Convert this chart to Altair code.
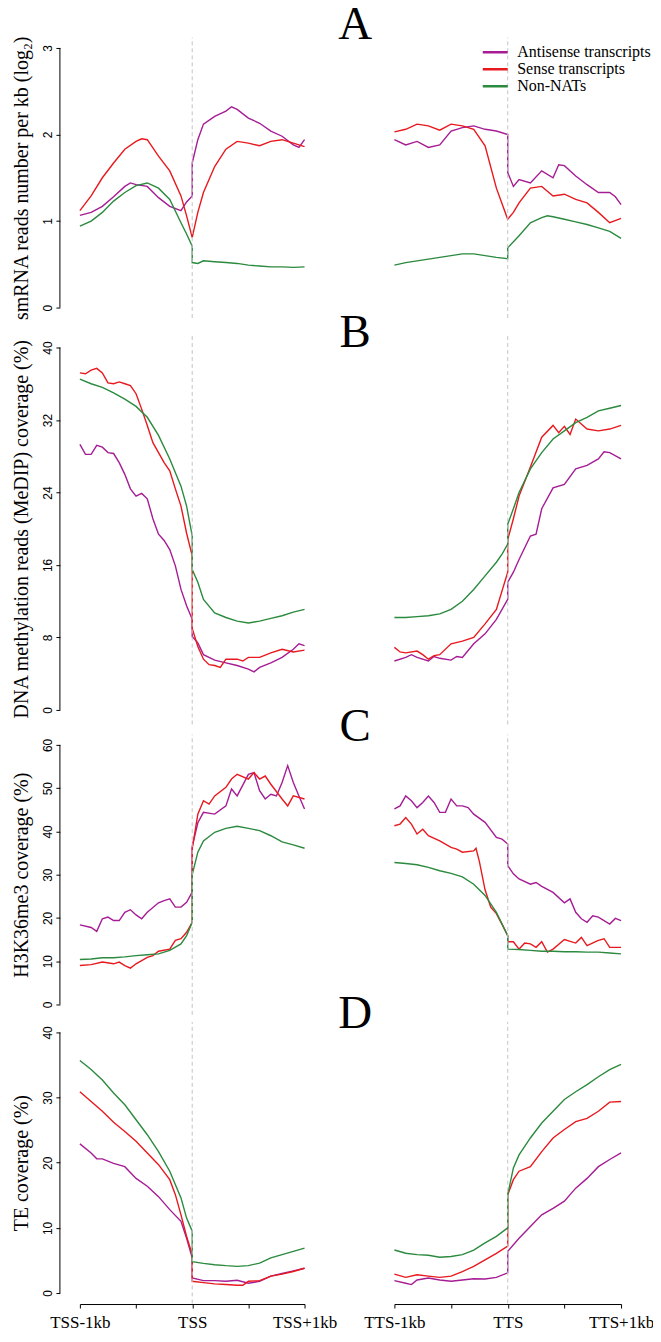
import altair as alt
import pandas as pd

# ---------------- data ----------------
SERIES = ["Antisense transcripts", "Sense transcripts", "Non-NATs"]
COLORS = ["#A51C94", "#E8191E", "#2B8A3E"]
TSS_LABELS = ["TSS-1kb", "TSS", "TSS+1kb"]
TTS_LABELS = ["TTS-1kb", "TTS", "TTS+1kb"]
LABEL_POS = [0, 1, 2]
X_TICKS = [0, 0.5, 1, 1.5, 2]
SITE = 1.0
LETTER_X = 2.45
PANELS = ["A", "B", "C", "D"]
Y_TITLES = ["smRNA reads number per kb (log\u2082)",
            "DNA methylation reads (MeDIP) coverage (%)",
            "H3K36me3 coverage (%)",
            "TE coverage (%)"]
Y_TICKS = [[0, 1, 2, 3], [0, 8, 16, 24, 32, 40],
           [0, 10, 20, 30, 40, 50, 60], [0, 10, 20, 30, 40]]

# Panel A: smRNA
A_TSS_ANTI = [(0,1.065),(0.1,1.10),(0.2,1.17),(0.3,1.28),(0.4,1.40),(0.45,1.44),(0.5,1.42),(0.6,1.40),(0.7,1.27),(0.8,1.17),(0.9,1.12),(0.95,1.22),(1.0,1.29),(1.0,1.67),(1.05,1.94),(1.1,2.12),(1.2,2.21),(1.3,2.27),(1.35,2.32),(1.4,2.29),(1.5,2.19),(1.6,2.13),(1.7,2.04),(1.8,1.98),(1.9,1.88),(1.95,1.85),(2.0,1.94)]
A_TSS_SENSE = [(0,1.12),(0.1,1.29),(0.2,1.50),(0.3,1.67),(0.4,1.83),(0.5,1.92),(0.55,1.95),(0.6,1.94),(0.7,1.75),(0.8,1.58),(0.9,1.29),(0.95,1.06),(1.0,0.81),(1.05,1.10),(1.1,1.33),(1.2,1.63),(1.3,1.83),(1.4,1.92),(1.5,1.90),(1.6,1.87),(1.7,1.92),(1.8,1.94),(1.9,1.90),(2.0,1.86)]
A_TSS_NON = [(0,0.94),(0.1,1.00),(0.2,1.10),(0.3,1.23),(0.4,1.33),(0.5,1.41),(0.6,1.44),(0.7,1.38),(0.8,1.25),(0.9,0.98),(0.95,0.85),(1.0,0.71),(1.0,0.52),(1.05,0.51),(1.1,0.54),(1.2,0.53),(1.3,0.52),(1.4,0.51),(1.5,0.49),(1.6,0.48),(1.7,0.47),(1.8,0.47),(1.9,0.465),(2.0,0.47)]
A_TTS_ANTI = [(0,1.94),(0.1,1.88),(0.2,1.92),(0.3,1.85),(0.4,1.88),(0.5,2.04),(0.6,2.08),(0.7,2.10),(0.8,2.06),(0.9,2.04),(1.0,2.00),(1.0,1.56),(1.05,1.40),(1.1,1.48),(1.2,1.44),(1.3,1.58),(1.4,1.50),(1.45,1.65),(1.5,1.64),(1.6,1.52),(1.7,1.42),(1.8,1.33),(1.9,1.33),(1.95,1.28),(2.0,1.19)]
A_TTS_SENSE = [(0,2.03),(0.1,2.06),(0.2,2.12),(0.3,2.10),(0.4,2.05),(0.5,2.12),(0.6,2.10),(0.7,2.06),(0.8,1.87),(0.9,1.38),(0.95,1.20),(1.0,1.02),(1.05,1.10),(1.1,1.21),(1.2,1.38),(1.3,1.40),(1.4,1.29),(1.5,1.31),(1.6,1.25),(1.7,1.21),(1.8,1.10),(1.9,0.98),(2.0,1.03)]
A_TTS_NON = [(0,0.49),(0.1,0.52),(0.2,0.54),(0.3,0.56),(0.4,0.58),(0.5,0.60),(0.6,0.62),(0.7,0.62),(0.8,0.60),(0.9,0.58),(1.0,0.565),(1.0,0.69),(1.1,0.83),(1.2,0.98),(1.3,1.04),(1.35,1.06),(1.4,1.05),(1.5,1.02),(1.6,0.99),(1.7,0.96),(1.8,0.92),(1.9,0.88),(2.0,0.80)]

# Panel B: DNA methylation
B_TSS_ANTI = [(0,29.3),(0.05,28.2),(0.1,28.2),(0.15,29.2),(0.2,29.0),(0.25,28.4),(0.3,28.3),(0.35,27.3),(0.4,26.0),(0.45,24.4),(0.5,23.6),(0.55,23.9),(0.6,23.3),(0.65,21.1),(0.7,19.4),(0.75,18.7),(0.8,17.7),(0.85,15.9),(0.9,13.3),(0.95,11.5),(1.0,10.0),(1.0,8.1),(1.05,7.4),(1.1,6.1),(1.2,5.5),(1.3,5.2),(1.4,4.9),(1.5,4.5),(1.55,4.2),(1.6,4.7),(1.7,5.2),(1.8,5.8),(1.9,6.7),(1.95,7.3),(2.0,7.1)]
B_TSS_SENSE = [(0,37.2),(0.05,37.1),(0.1,37.5),(0.15,37.7),(0.2,37.2),(0.25,36.1),(0.3,36.0),(0.35,36.2),(0.4,36.0),(0.45,35.8),(0.5,34.9),(0.55,33.2),(0.6,31.4),(0.65,29.5),(0.7,28.4),(0.75,27.3),(0.8,26.4),(0.85,24.4),(0.9,22.5),(0.95,19.5),(1.0,17.0),(1.0,9.0),(1.05,7.0),(1.1,5.6),(1.15,5.0),(1.2,4.9),(1.25,4.7),(1.3,5.6),(1.4,5.6),(1.45,5.4),(1.5,5.8),(1.6,5.8),(1.7,6.3),(1.8,6.7),(1.9,6.4),(2.0,6.6)]
B_TSS_NON = [(0,36.5),(0.1,36.0),(0.2,35.6),(0.3,35.0),(0.4,34.3),(0.5,33.5),(0.6,32.3),(0.7,30.3),(0.8,27.7),(0.9,24.7),(0.95,22.5),(1.0,19.2),(1.0,15.5),(1.05,14.1),(1.1,12.2),(1.2,10.7),(1.3,10.2),(1.4,9.8),(1.5,9.6),(1.6,9.8),(1.7,10.1),(1.8,10.4),(1.9,10.8),(2.0,11.1)]
B_TTS_ANTI = [(0,5.4),(0.1,5.8),(0.15,6.1),(0.2,5.8),(0.3,5.4),(0.35,5.9),(0.4,5.7),(0.5,5.5),(0.55,5.9),(0.6,5.8),(0.7,7.3),(0.8,8.4),(0.9,10.0),(1.0,12.2),(1.0,14.1),(1.05,15.2),(1.1,16.6),(1.2,19.2),(1.25,19.4),(1.3,22.2),(1.4,24.5),(1.5,24.9),(1.6,26.6),(1.7,27.0),(1.8,27.7),(1.85,28.5),(1.9,28.4),(2.0,27.7)]
B_TTS_SENSE = [(0,6.9),(0.05,6.4),(0.1,6.3),(0.2,6.5),(0.25,6.1),(0.3,5.6),(0.35,6.0),(0.4,6.1),(0.5,7.3),(0.6,7.6),(0.7,8.0),(0.8,9.5),(0.9,11.1),(1.0,15.2),(1.0,18.8),(1.05,21.1),(1.1,23.6),(1.2,26.8),(1.3,30.1),(1.4,31.4),(1.45,30.6),(1.5,31.3),(1.55,30.4),(1.6,32.1),(1.7,31.0),(1.8,30.8),(1.9,31.0),(2.0,31.4)]
B_TTS_NON = [(0,10.2),(0.1,10.2),(0.2,10.3),(0.3,10.4),(0.4,10.6),(0.5,11.1),(0.6,12.0),(0.7,13.3),(0.8,14.8),(0.9,16.3),(0.95,17.2),(1.0,18.3),(1.0,20.5),(1.05,22.2),(1.1,24.0),(1.2,26.6),(1.3,28.4),(1.4,29.9),(1.5,30.8),(1.6,31.7),(1.7,32.3),(1.8,33.0),(1.9,33.3),(2.0,33.6)]

# Panel C: H3K36me3
C_TSS_ANTI = [(0,18.4),(0.1,17.8),(0.15,16.9),(0.2,19.8),(0.25,20.2),(0.3,19.4),(0.35,19.4),(0.4,21.3),(0.45,21.9),(0.5,20.7),(0.55,19.8),(0.6,21.3),(0.7,23.5),(0.75,24.0),(0.8,24.4),(0.85,22.5),(0.9,22.5),(0.95,23.6),(1.0,26.0),(1.0,36.5),(1.05,42.0),(1.1,44.4),(1.2,44.0),(1.3,45.9),(1.35,49.8),(1.4,48.2),(1.5,53.2),(1.55,53.6),(1.6,49.4),(1.65,47.5),(1.7,48.6),(1.75,48.2),(1.8,51.3),(1.85,55.2),(1.9,51.3),(1.95,48.2),(2.0,45.2)]
C_TSS_SENSE = [(0,9.0),(0.1,9.2),(0.2,9.8),(0.3,9.4),(0.35,9.8),(0.4,9.0),(0.45,8.4),(0.5,9.4),(0.6,10.9),(0.65,11.3),(0.7,12.3),(0.8,12.8),(0.85,14.8),(0.9,15.2),(0.95,16.7),(1.0,19.0),(1.0,36.0),(1.05,44.0),(1.1,47.1),(1.15,46.3),(1.2,48.2),(1.3,50.2),(1.35,52.1),(1.4,53.2),(1.5,52.1),(1.55,53.6),(1.6,52.1),(1.65,52.8),(1.7,50.9),(1.8,47.5),(1.85,45.9),(1.9,48.2),(2.0,47.5)]
C_TSS_NON = [(0,10.4),(0.1,10.5),(0.2,10.8),(0.3,10.8),(0.4,11.0),(0.5,11.3),(0.6,11.5),(0.7,11.7),(0.8,12.5),(0.9,14.0),(0.95,15.9),(1.0,19.0),(1.0,30.0),(1.05,35.2),(1.1,37.8),(1.2,39.8),(1.3,40.7),(1.4,41.2),(1.5,40.7),(1.6,40.2),(1.7,39.0),(1.8,37.6),(1.9,36.9),(2.0,36.1)]
C_TTS_ANTI = [(0,45.2),(0.05,45.9),(0.1,48.2),(0.15,47.1),(0.2,45.5),(0.25,46.7),(0.3,48.2),(0.35,46.7),(0.4,44.4),(0.45,44.4),(0.5,47.5),(0.55,45.9),(0.6,45.9),(0.65,45.5),(0.7,44.0),(0.8,42.1),(0.9,38.6),(0.95,38.2),(1.0,37.1),(1.0,32.1),(1.05,30.2),(1.1,29.0),(1.2,27.8),(1.25,28.2),(1.3,27.3),(1.4,25.9),(1.5,23.5),(1.55,24.4),(1.6,21.3),(1.65,19.8),(1.7,19.0),(1.75,20.5),(1.8,20.2),(1.9,18.6),(1.95,19.9),(2.0,19.4)]
C_TTS_SENSE = [(0,41.3),(0.05,41.7),(0.1,43.2),(0.15,41.7),(0.2,39.4),(0.25,40.5),(0.3,39.0),(0.4,37.8),(0.5,36.3),(0.55,35.9),(0.6,35.2),(0.7,35.5),(0.72,36.1),(0.75,33.0),(0.8,26.5),(0.85,22.5),(0.9,21.0),(0.95,18.5),(1.0,15.9),(1.0,14.5),(1.05,14.5),(1.1,12.8),(1.15,14.2),(1.2,14.0),(1.25,13.2),(1.3,14.5),(1.35,12.1),(1.4,12.8),(1.5,15.0),(1.6,14.2),(1.65,15.5),(1.7,13.6),(1.8,14.8),(1.85,15.2),(1.9,13.2),(2.0,13.2)]
C_TTS_NON = [(0,32.8),(0.1,32.6),(0.2,32.3),(0.3,31.7),(0.4,30.9),(0.5,30.3),(0.6,29.5),(0.7,27.8),(0.8,25.2),(0.9,21.3),(1.0,15.9),(1.0,12.8),(1.1,12.7),(1.2,12.5),(1.3,12.3),(1.4,12.3),(1.5,12.2),(1.6,12.2),(1.7,12.1),(1.8,12.1),(1.9,11.9),(2.0,11.7)]

# Panel D: TE coverage
D_TSS_ANTI = [(0,22.9),(0.1,21.5),(0.15,20.6),(0.2,20.6),(0.3,19.9),(0.4,19.4),(0.5,17.6),(0.6,16.4),(0.7,14.8),(0.8,12.8),(0.9,11.0),(0.95,8.4),(1.0,5.4),(1.0,2.3),(1.1,1.9),(1.2,1.9),(1.3,1.8),(1.4,1.95),(1.5,1.5),(1.6,1.8),(1.7,2.6),(1.8,3.0),(1.9,3.4),(2.0,3.8)]
D_TSS_SENSE = [(0,30.9),(0.1,29.4),(0.2,27.9),(0.3,26.2),(0.4,24.8),(0.5,23.3),(0.6,21.5),(0.7,19.7),(0.8,17.4),(0.85,15.1),(0.9,12.0),(0.95,8.7),(1.0,5.9),(1.0,1.8),(1.1,1.6),(1.2,1.4),(1.3,1.3),(1.4,1.2),(1.45,1.2),(1.5,1.8),(1.6,1.9),(1.7,2.6),(1.8,2.9),(1.9,3.3),(2.0,3.8)]
D_TSS_NON = [(0,35.7),(0.1,34.3),(0.2,32.7),(0.3,30.7),(0.4,28.9),(0.5,26.6),(0.6,24.3),(0.7,21.7),(0.8,18.7),(0.9,14.6),(0.95,11.5),(1.0,9.5),(1.0,4.8),(1.1,4.55),(1.2,4.35),(1.3,4.2),(1.4,4.1),(1.5,4.2),(1.6,4.6),(1.7,5.4),(1.8,5.9),(1.9,6.4),(2.0,6.9)]
D_TTS_ANTI = [(0,1.9),(0.1,1.5),(0.15,1.3),(0.2,2.0),(0.3,2.3),(0.4,2.0),(0.5,1.8),(0.6,2.0),(0.7,2.2),(0.8,2.15),(0.9,2.4),(1.0,3.1),(1.0,6.4),(1.1,8.4),(1.2,10.2),(1.3,12.0),(1.4,13.0),(1.5,14.1),(1.6,16.1),(1.7,17.6),(1.8,19.4),(1.9,20.5),(2.0,21.5)]
D_TTS_SENSE = [(0,2.9),(0.1,2.4),(0.2,2.8),(0.3,2.6),(0.4,2.4),(0.5,2.6),(0.6,3.3),(0.7,4.1),(0.8,5.1),(0.9,6.1),(1.0,7.2),(1.0,15.1),(1.05,17.4),(1.1,18.7),(1.2,19.4),(1.3,21.7),(1.4,23.8),(1.5,25.1),(1.6,26.3),(1.7,26.8),(1.8,27.9),(1.9,29.3),(2.0,29.4)]
D_TTS_NON = [(0,6.6),(0.1,6.1),(0.2,5.9),(0.3,5.8),(0.4,5.5),(0.5,5.6),(0.6,5.9),(0.7,6.6),(0.8,7.7),(0.9,8.7),(1.0,10.0),(1.0,15.1),(1.05,19.2),(1.1,21.2),(1.2,23.8),(1.3,26.1),(1.4,27.9),(1.5,29.7),(1.6,30.9),(1.7,32.0),(1.8,33.2),(1.9,34.3),(2.0,35.1)]

DATA = {
    ("A", "TSS"): [A_TSS_ANTI, A_TSS_SENSE, A_TSS_NON],
    ("A", "TTS"): [A_TTS_ANTI, A_TTS_SENSE, A_TTS_NON],
    ("B", "TSS"): [B_TSS_ANTI, B_TSS_SENSE, B_TSS_NON],
    ("B", "TTS"): [B_TTS_ANTI, B_TTS_SENSE, B_TTS_NON],
    ("C", "TSS"): [C_TSS_ANTI, C_TSS_SENSE, C_TSS_NON],
    ("C", "TTS"): [C_TTS_ANTI, C_TTS_SENSE, C_TTS_NON],
    ("D", "TSS"): [D_TSS_ANTI, D_TSS_SENSE, D_TSS_NON],
    ("D", "TTS"): [D_TTS_ANTI, D_TTS_SENSE, D_TTS_NON],
}

# ---------------- layout (pixels) ----------------
LAYOUT = [
    dict(px=260, top=40, bottom=12, letter=31),
    dict(px=363, top=28, bottom=17, letter=27),
    dict(px=260, top=18, bottom=13, letter=14),
    dict(px=261, top=15, bottom=11, letter=11),
]
SERIF = "Liberation Serif"
SANS = "Liberation Sans"


def frame(series_lists):
    rows = []
    for name, pts in zip(SERIES, series_lists):
        for i, (u, v) in enumerate(pts):
            rows.append({"u": u, "v": v, "series": name, "i": i})
    return pd.DataFrame(rows)


color = alt.Color("series:N", scale=alt.Scale(domain=SERIES, range=COLORS), title=None)
one = alt.Data(values=[{}])

cells = []
for r, key in enumerate(PANELS):
    lay = LAYOUT[r]
    ymax = Y_TICKS[r][-1]
    px = lay["px"]
    lo = -lay["bottom"] / px * ymax
    hi = ymax + lay["top"] / px * ymax
    height = lay["top"] + px + lay["bottom"]
    ys = alt.Scale(domain=[lo, hi], nice=False, zero=False)
    xs = alt.Scale(domain=[0, 2], nice=False, zero=False)
    bottom = r == len(PANELS) - 1
    for side, labels, width in (("TSS", TSS_LABELS, 225), ("TTS", TTS_LABELS, 227)):
        left = side == "TSS"
        if bottom:
            expr = " : ".join(f"datum.value == {p} ? '{t}'" for p, t in zip(LABEL_POS, labels)) + " : ''"
            xaxis = alt.Axis(values=X_TICKS, labelExpr=expr, title=None, offset=0,
                             tickSize=4, tickColor="black", tickWidth=1,
                             domainColor="black", domainWidth=1,
                             labelPadding=7, labelFont=SERIF, labelFontSize=17,
                             labelColor="black", grid=False, labelFlush=False,
                             labelOverlap=False)
        else:
            xaxis = None
        if left:
            yaxis = alt.Axis(values=Y_TICKS[r], title=Y_TITLES[r], titleFont=SERIF,
                             titleFontSize=20, titleFontWeight="normal", titleColor="black",
                             titlePadding=10, titleY=lay["top"] + px / 2,
                             labelAngle=-90, labelAlign="center", labelBaseline="bottom",
                             labelPadding=1, labelFont=SANS, labelFontSize=12,
                             labelColor="black", tickSize=4, tickColor="black", tickWidth=1,
                             domain=False, grid=False, offset=20, labelFlush=False,
                             labelOverlap=False)
        else:
            yaxis = None
        df = frame(DATA[(key, side)])
        lines = alt.Chart(df).mark_line(strokeWidth=1.4).encode(
            x=alt.X("u:Q", scale=xs, axis=xaxis),
            y=alt.Y("v:Q", scale=ys, axis=yaxis),
            color=color,
            order=alt.Order("i:Q"),
        )
        site = alt.Chart(one).mark_rule(color="#C4C4C4", strokeDash=[4, 3], strokeWidth=1).encode(
            x=alt.XDatum(SITE, scale=xs, axis=xaxis),
            y=alt.YDatum(-0.04 * ymax, scale=ys, axis=yaxis),
            y2=alt.Y2Datum(1.04 * ymax),
        )
        layers = [lines, site]
        if left:
            yline = alt.Chart(one).mark_rule(color="black", strokeWidth=1).encode(
                x=alt.value(-20),
                y=alt.YDatum(0, scale=ys, axis=yaxis),
                y2=alt.Y2Datum(ymax),
            )
            letter = alt.Chart(one).mark_text(font=SERIF, fontSize=47, baseline="alphabetic",
                                              align="center", color="black").encode(
                x=alt.XDatum(LETTER_X, scale=xs, axis=xaxis),
                y=alt.value(lay["letter"]),
                text=alt.value(key),
            )
            layers += [yline, letter]
        cells.append(alt.layer(*layers).properties(width=width, height=height))

chart = alt.concat(*cells, columns=2).properties(
    spacing={"row": 0, "column": 90},
    bounds="flush",
    padding={"top": -8, "left": 3, "right": -1, "bottom": 0},
    background="white",
).configure_view(stroke=None).configure_legend(
    orient="none", legendX=402, legendY=36, symbolType="stroke", symbolSize=625,
    symbolStrokeWidth=2.5, labelFont=SERIF, labelFontSize=16, labelColor="black",
    labelOffset=8, rowPadding=0, clipHeight=16.6, padding=0, labelLimit=300,
)

chart.save("out.html", embed_options={"renderer": "svg", "actions": False})
